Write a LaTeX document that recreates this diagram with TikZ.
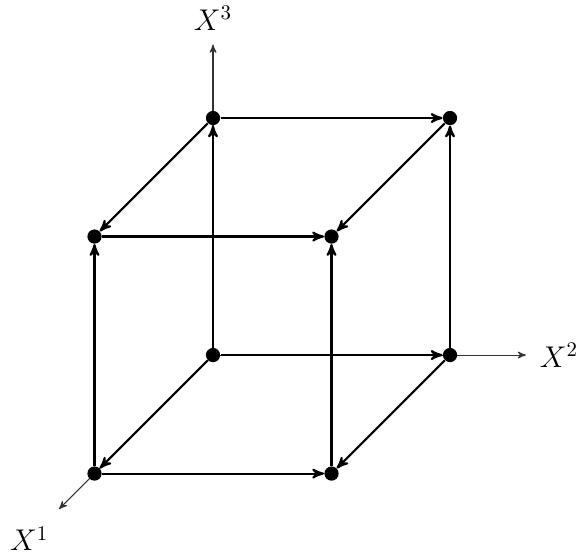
\documentclass[tikz,border=0pt]{standalone}
\usetikzlibrary{arrows}
\tikzset{
    vertex/.style={
           circle,
           fill=black,
           inner sep=0pt,
           minimum size=0.24cm,
           },
    cubeedge/.style={
           ->, >=stealth', line width=1pt,
           },
    axis/.style={
           ->, >=stealth', draw=black!80, line width=0.5pt,
           },
}

\begin{document}
\begin{tikzpicture}[x={(-2cm,-2cm)}, y={(4cm,0cm)}, z={(0cm,4cm)}]
  % fix the size of the picture
  \useasboundingbox (-3.595cm,-3.376cm) rectangle (6.278cm,5.992cm);

  % coordinate axes
  \coordinate (O) at (0,0,0);
  \coordinate (E1) at (1.3,0,0);
  \coordinate (E2) at (0,1.32,0);
  \coordinate (E3) at (0,0,1.31);
  \draw[axis] (O) -- (E1);
  \draw[axis] (O) -- (E2);
  \draw[axis] (O) -- (E3);
  \node (L1) at (1.55,0,0) {\Large$X^1$};
  \node (L2) at (0,1.46,0) {\Large$X^2$};
  \node (L3) at (0,0,1.42) {\Large$X^3$};

  % the vertices of the cube
  \node[vertex] (V000) at (0,0,0) {};
  \node[vertex] (V100) at (1,0,0) {};
  \node[vertex] (V010) at (0,1,0) {};
  \node[vertex] (V001) at (0,0,1) {};
  \node[vertex] (V110) at (1,1,0) {};
  \node[vertex] (V101) at (1,0,1) {};
  \node[vertex] (V011) at (0,1,1) {};
  \node[vertex] (V111) at (1,1,1) {};

  % the edges, each pointing the way a coordinate grows
  \path[cubeedge]
   (V000) edge (V100)
   (V000) edge (V010)
   (V000) edge (V001)
   (V100) edge (V110)
   (V100) edge (V101)
   (V010) edge (V110)
   (V010) edge (V011)
   (V001) edge (V101)
   (V001) edge (V011)
   (V110) edge (V111)
   (V101) edge (V111)
   (V011) edge (V111)
   ;
\end{tikzpicture}
\end{document}
